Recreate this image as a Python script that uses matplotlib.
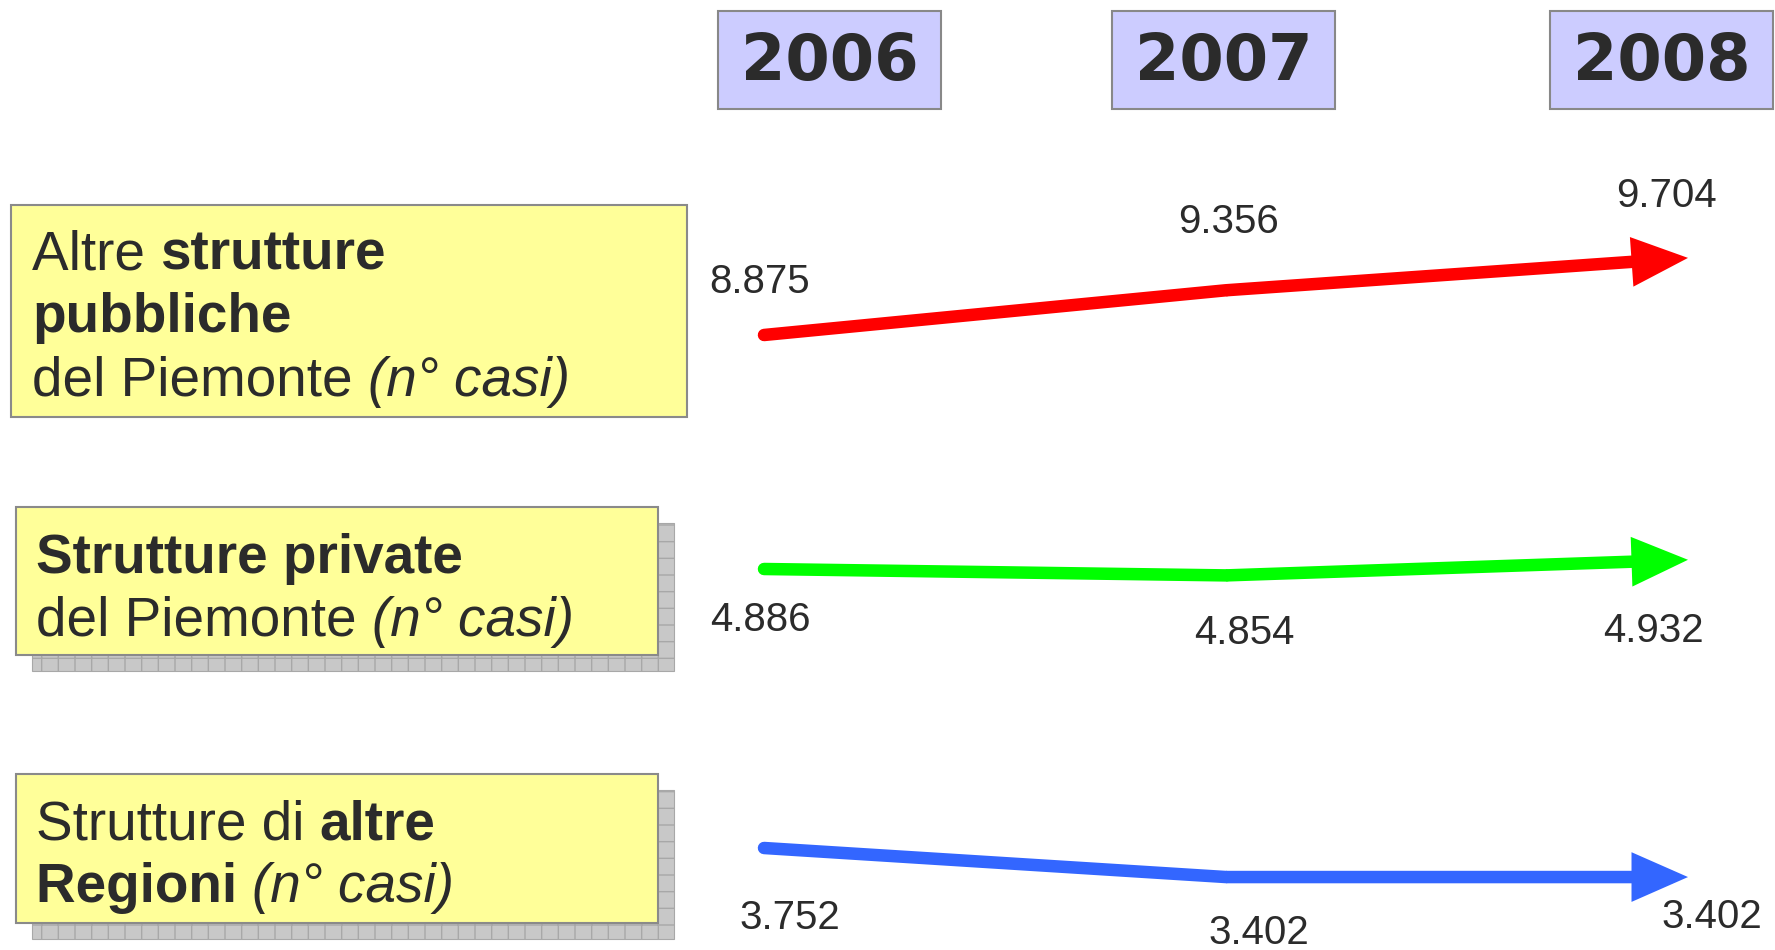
import matplotlib
matplotlib.use('Agg')
import matplotlib.pyplot as plt
from matplotlib.patches import Rectangle

# data
years = [2006, 2007, 2008]
pubbliche = [8875, 9356, 9704]
private = [4886, 4854, 4932]
altre_regioni = [3752, 3402, 3402]
series = [pubbliche, private, altre_regioni]
colors = ['#ff0000', '#00ff00', '#3366ff']

# label offsets (pixels) for each value
offsets = [
    [(-4, 53), (3, 68), (-22, 62)],
    [(-4, -51), (18, -58), (-35, -71)],
    [(26, -70), (33, -56), (24, -40)],
]
# per row: reference value, its pixel row (from top), pixels per unit
rows = [(8875, 335, 0.093), (4886, 569, 0.2), (3752, 848, 0.083)]

W, H = 1775, 950
TXT = '#2b2b2b'
fig = plt.figure(figsize=(W / 100, H / 100), dpi=100)

lay = fig.add_axes([0, 0, 1, 1])
lay.set_xlim(0, W)
lay.set_ylim(H, 0)
lay.axis('off')

# year boxes
for yr, bx in zip(years, [718, 1112, 1550]):
    lay.add_patch(Rectangle((bx, 11), 223, 98, facecolor='#ccccff',
                            edgecolor='#888888', lw=1.5))
    lay.text(bx + 111.5, 62, str(yr), ha='center', va='center', fontsize=46,
             fontweight='bold', family='DejaVu Sans', color=TXT)

# label boxes
boxes = [(11, 205, 676, 212, False), (16, 507, 642, 148, True), (16, 774, 642, 149, True)]
for x, y, w, h, shadow in boxes:
    if shadow:
        lay.add_patch(Rectangle((x + 16, y + 16), w, h, facecolor='#c8c8c8',
                                edgecolor='#a8a8a8', hatch='+', lw=0.8))
    lay.add_patch(Rectangle((x, y), w, h, facecolor='#ffff99',
                            edgecolor='#8a8a8a', lw=1.5))

texts = [
    (32, [269, 332, 396], [
        [('Altre ', 'normal', 'normal'), ('strutture', 'bold', 'normal')],
        [('pubbliche', 'bold', 'normal')],
        [('del Piemonte ', 'normal', 'normal'), ('(n° casi)', 'normal', 'italic')],
    ]),
    (36, [573, 636], [
        [('Strutture private', 'bold', 'normal')],
        [('del Piemonte ', 'normal', 'normal'), ('(n° casi)', 'normal', 'italic')],
    ]),
    (36, [839, 902], [
        [('Strutture di ', 'normal', 'normal'), ('altre', 'bold', 'normal')],
        [('Regioni ', 'bold', 'normal'), ('(n° casi)', 'normal', 'italic')],
    ]),
]

for x, ys, lines in texts:
    for y, runs in zip(ys, lines):
        prev = None
        for s, wgt, sty in runs:
            kw = dict(fontsize=39.5, fontweight=wgt, fontstyle=sty,
                      family='Liberation Sans', color=TXT)
            if prev is None:
                prev = lay.text(x, y, s, va='baseline', **kw)
            else:
                prev = lay.annotate(s, xy=(1, 0), xycoords=prev, va='bottom', **kw)

# series, each on its own vertical scale
x0, px_year = 764, 462
xlim = (2006 - x0 / px_year, 2006 + (W - x0) / px_year)

for vals, col, offs, (ref, ypx, s) in zip(series, colors, offsets, rows):
    ax = fig.add_axes([0, 0, 1, 1])
    ax.set_xlim(*xlim)
    ax.set_ylim(ref - (H - ypx) / s, ref + ypx / s)
    ax.axis('off')
    ax.plot(years[:2], vals[:2], color=col, lw=9, solid_capstyle='round')
    ax.annotate('', xy=(years[2], vals[2]), xytext=(years[1], vals[1]),
                arrowprops=dict(arrowstyle='-|>,head_length=1.25,head_width=0.55',
                                color=col, lw=9, shrinkA=0, shrinkB=0,
                                mutation_scale=20, joinstyle='miter',
                                capstyle='butt'))
    for yr, v, off in zip(years, vals, offs):
        ax.annotate(f'{v:,}'.replace(',', '.'), xy=(yr, v), xytext=off,
                    textcoords='offset pixels', ha='center', va='center',
                    fontsize=29, family='Liberation Sans', color=TXT)

fig.savefig('out.png', dpi=100)
